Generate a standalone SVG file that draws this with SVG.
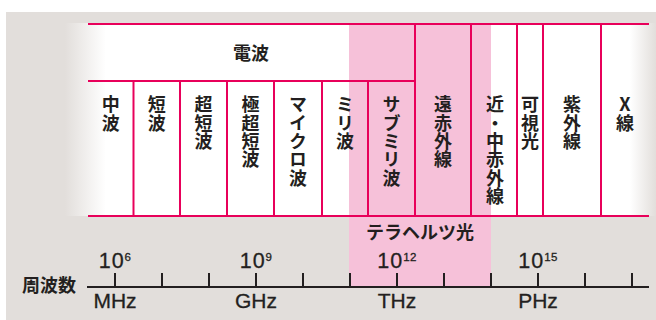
<svg xmlns="http://www.w3.org/2000/svg" width="656" height="320" viewBox="0 0 656 320">
<defs>
<linearGradient id="fadeL" x1="0" x2="1" y1="0" y2="0">
<stop offset="0" stop-color="#e2dedb"/><stop offset="1" stop-color="#ffffff"/>
</linearGradient>
<linearGradient id="fadeR" x1="0" x2="1" y1="0" y2="0">
<stop offset="0" stop-color="#ffffff"/><stop offset="1" stop-color="#e2dedb"/>
</linearGradient>
<style>
.ln{stroke:#e8005a;stroke-width:2;fill:none}
.ax{stroke:#231f20;stroke-width:2;fill:none}
.jp{font-family:"Noto Sans CJK JP","Noto Sans CJK SC",sans-serif;font-size:18px;fill:#231f20;text-anchor:middle;font-weight:bold}
.v{writing-mode:vertical-rl;text-orientation:upright;text-anchor:start;letter-spacing:0.3px}
.num{font-family:"Liberation Sans",Arial,sans-serif;font-size:21.5px;fill:#231f20;text-anchor:middle;letter-spacing:1px;stroke:#231f20;stroke-width:0.3}
.sup{font-size:11.5px;letter-spacing:0.3px}
.unit{font-family:"Liberation Sans",Arial,sans-serif;font-size:21px;fill:#231f20;text-anchor:middle;stroke:#231f20;stroke-width:0.3}
</style>
</defs>
<rect x="0" y="0" width="656" height="320" fill="#ffffff"/>
<rect x="6" y="12" width="650" height="308" fill="#e2dedb"/>
<rect x="65" y="23" width="41" height="193" fill="url(#fadeL)"/>
<rect x="105" y="23" width="526" height="193" fill="#ffffff"/>
<rect x="630" y="23" width="26" height="193" fill="url(#fadeR)"/>
<rect id="terahertz-band" x="349" y="24" width="142" height="263" fill="#f6c1d9"/>

<g id="connectors">
<line class="ln" x1="88" y1="24" x2="649" y2="24"/>
<line class="ln" x1="88" y1="81" x2="415" y2="81"/>
<line class="ln" x1="88" y1="216" x2="649" y2="216"/>
<line class="ln" x1="133.5" y1="81" x2="133.5" y2="216"/>
<line class="ln" x1="180" y1="81" x2="180" y2="216"/>
<line class="ln" x1="227" y1="81" x2="227" y2="216"/>
<line class="ln" x1="274" y1="81" x2="274" y2="216"/>
<line class="ln" x1="322" y1="81" x2="322" y2="216"/>
<line class="ln" x1="368" y1="81" x2="368" y2="216"/>
<line class="ln" x1="415" y1="24" x2="415" y2="216"/>
<line class="ln" x1="471" y1="24" x2="471" y2="216"/>
<line class="ln" x1="517" y1="24" x2="517" y2="216"/>
<line class="ln" x1="543" y1="24" x2="543" y2="216"/>
<line class="ln" x1="601" y1="24" x2="601" y2="216"/>
</g>

<g id="denpa"><text class="jp" x="251" y="60">電波</text></g>
<g id="chuha"><text class="jp v" x="110.7" y="95.5">中波</text></g>
<g id="tanpa"><text class="jp v" x="156.7" y="95.5">短波</text></g>
<g id="chotanpa"><text class="jp v" x="203.5" y="95.5">超短波</text></g>
<g id="gokuchotanpa"><text class="jp v" x="250.5" y="95.5">極超短波</text></g>
<g id="microha"><text class="jp v" x="298" y="95.5">マイクロ波</text></g>
<g id="miriha"><text class="jp v" x="345" y="95.5">ミリ波</text></g>
<g id="submiriha"><text class="jp v" x="391.5" y="95.5">サブミリ波</text></g>
<g id="ensekigaisen"><text class="jp v" x="443" y="95.5">遠赤外線</text></g>
<g id="kinchusekigaisen"><text class="jp v" x="495" y="95.5">近・中赤外線</text></g>
<g id="kashiko"><text class="jp v" x="530" y="95.5">可視光</text></g>
<g id="shigaisen"><text class="jp v" x="572" y="95.5">紫外線</text></g>
<g id="xsen"><text class="jp v" x="625" y="95.5">X線</text></g>
<g id="terahertz"><text class="jp" x="420" y="239">テラヘルツ光</text></g>

<g id="axis">
<line class="ax" x1="87" y1="287" x2="649" y2="287"/>
<path class="ax" d="M115 273V287M162 273V287M209 273V287M256 273V287M303 273V287M350 273V287M397 273V287M444 273V287M491 273V287M538 273V287M585 273V287M632 273V287"/>
<text class="jp" x="49" y="292">周波数</text>
<text class="num" x="115" y="268.3">10<tspan class="sup" dy="-7.3">6</tspan></text>
<text class="num" x="256" y="268.3">10<tspan class="sup" dy="-7.3">9</tspan></text>
<text class="num" x="397" y="268.3">10<tspan class="sup" dy="-7.3">12</tspan></text>
<text class="num" x="538" y="268.3">10<tspan class="sup" dy="-7.3">15</tspan></text>
<text class="unit" x="115" y="308.3">MHz</text>
<text class="unit" x="256" y="308.3">GHz</text>
<text class="unit" x="397" y="308.3">THz</text>
<text class="unit" x="538" y="308.3">PHz</text>
</g>
</svg>
